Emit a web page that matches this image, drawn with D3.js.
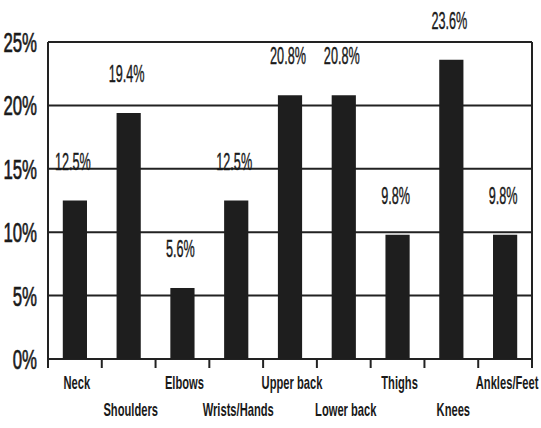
<!DOCTYPE html>
<html>
<head>
<meta charset="utf-8">
<script src="https://cdn.jsdelivr.net/npm/d3@7"></script>
<style>
  body { margin: 0; background: #fff; }
  svg text { font-family: "Liberation Sans Narrow", "Liberation Sans", Arial, sans-serif; fill: #1a1a1a; }
</style>
</head>
<body>
<div id="container"></div>
<script>
// data
var categories = ["Neck", "Shoulders", "Elbows", "Wrists/Hands", "Upper back", "Lower back", "Thighs", "Knees", "Ankles/Feet"];
var values = [12.5, 19.4, 5.6, 12.5, 20.8, 20.8, 9.8, 23.6, 9.8];
var yTicks = [0, 5, 10, 15, 20, 25];

// width and height
var width = 541;
var height = 428;
var margin = {top: 42, right: 9, bottom: 69, left: 48};
var w = width - margin.left - margin.right;
var h = height - margin.top - margin.bottom;

var svg = d3.select("#container")
    .append("svg")
    .attr("width", width)
    .attr("height", height);

var g = svg.append("g")
    .attr("transform", "translate(" + margin.left + "," + margin.top + ")");

// scales
var x = d3.scaleBand()
    .domain(categories)
    .range([0, w])
    .paddingInner(0.55)
    .paddingOuter(0.275);

var y = d3.scaleLinear()
    .domain([0, 25])
    .range([h, 0]);

// grid lines
g.selectAll(".grid")
    .data(yTicks)
    .enter().append("line")
    .attr("class", "grid")
    .attr("x1", 0)
    .attr("x2", w)
    .attr("y1", function(d) { return y(d); })
    .attr("y2", function(d) { return y(d); })
    .attr("stroke", "#222")
    .attr("stroke-width", 2);

// frame
g.append("line").attr("x1", 0).attr("x2", 0).attr("y1", 0).attr("y2", h)
    .attr("stroke", "#222").attr("stroke-width", 2);
g.append("line").attr("x1", w).attr("x2", w).attr("y1", 0).attr("y2", h)
    .attr("stroke", "#222").attr("stroke-width", 2);

// bars
g.selectAll(".bar")
    .data(values)
    .enter().append("rect")
    .attr("class", "bar")
    .attr("x", function(d, i) { return x(categories[i]); })
    .attr("width", x.bandwidth())
    .attr("y", function(d) { return y(d); })
    .attr("height", function(d) { return h - y(d); })
    .attr("fill", "#1e1e1e");

// x axis ticks at category boundaries
var step = x.step();
var bounds = d3.range(categories.length + 1).map(function(i) {
    return i === categories.length ? w : x(categories[i]) - step * 0.275;
});
g.selectAll(".xtick")
    .data(bounds)
    .enter().append("line")
    .attr("x1", function(d) { return d; })
    .attr("x2", function(d) { return d; })
    .attr("y1", h)
    .attr("y2", h + 9)
    .attr("stroke", "#222")
    .attr("stroke-width", 2);

// condensed text helper
function label(sel, tx, ty, sx, txt) {
    var t = sel.append("g")
        .attr("transform", "translate(" + tx + "," + ty + ") scale(" + sx + ",1)");
    return t.append("text").text(txt);
}

// y tick labels
yTicks.forEach(function(d) {
    label(g, -11, y(d) + 10, 0.6, d + "%")
        .attr("text-anchor", "end")
        .style("font-size", "28px")
        .style("stroke", "#1a1a1a")
        .style("stroke-width", "0.7px");
});

// value labels
values.forEach(function(d, i) {
    label(g, x(categories[i]) + x.bandwidth() / 2 - 2, y(d) - 31, 0.55, d.toFixed(1) + "%")
        .attr("text-anchor", "middle")
        .style("font-size", "23px")
        .style("stroke", "#1a1a1a")
        .style("stroke-width", "0.4px");
});

// category labels (alternating rows)
categories.forEach(function(c, i) {
    label(g, x(c) + x.bandwidth() / 2 + 2, h + (i % 2 === 0 ? 30 : 57), 0.62, c)
        .attr("text-anchor", "middle")
        .style("font-size", "18px")
        .style("font-weight", "bold");
});
</script>
</body>
</html>
